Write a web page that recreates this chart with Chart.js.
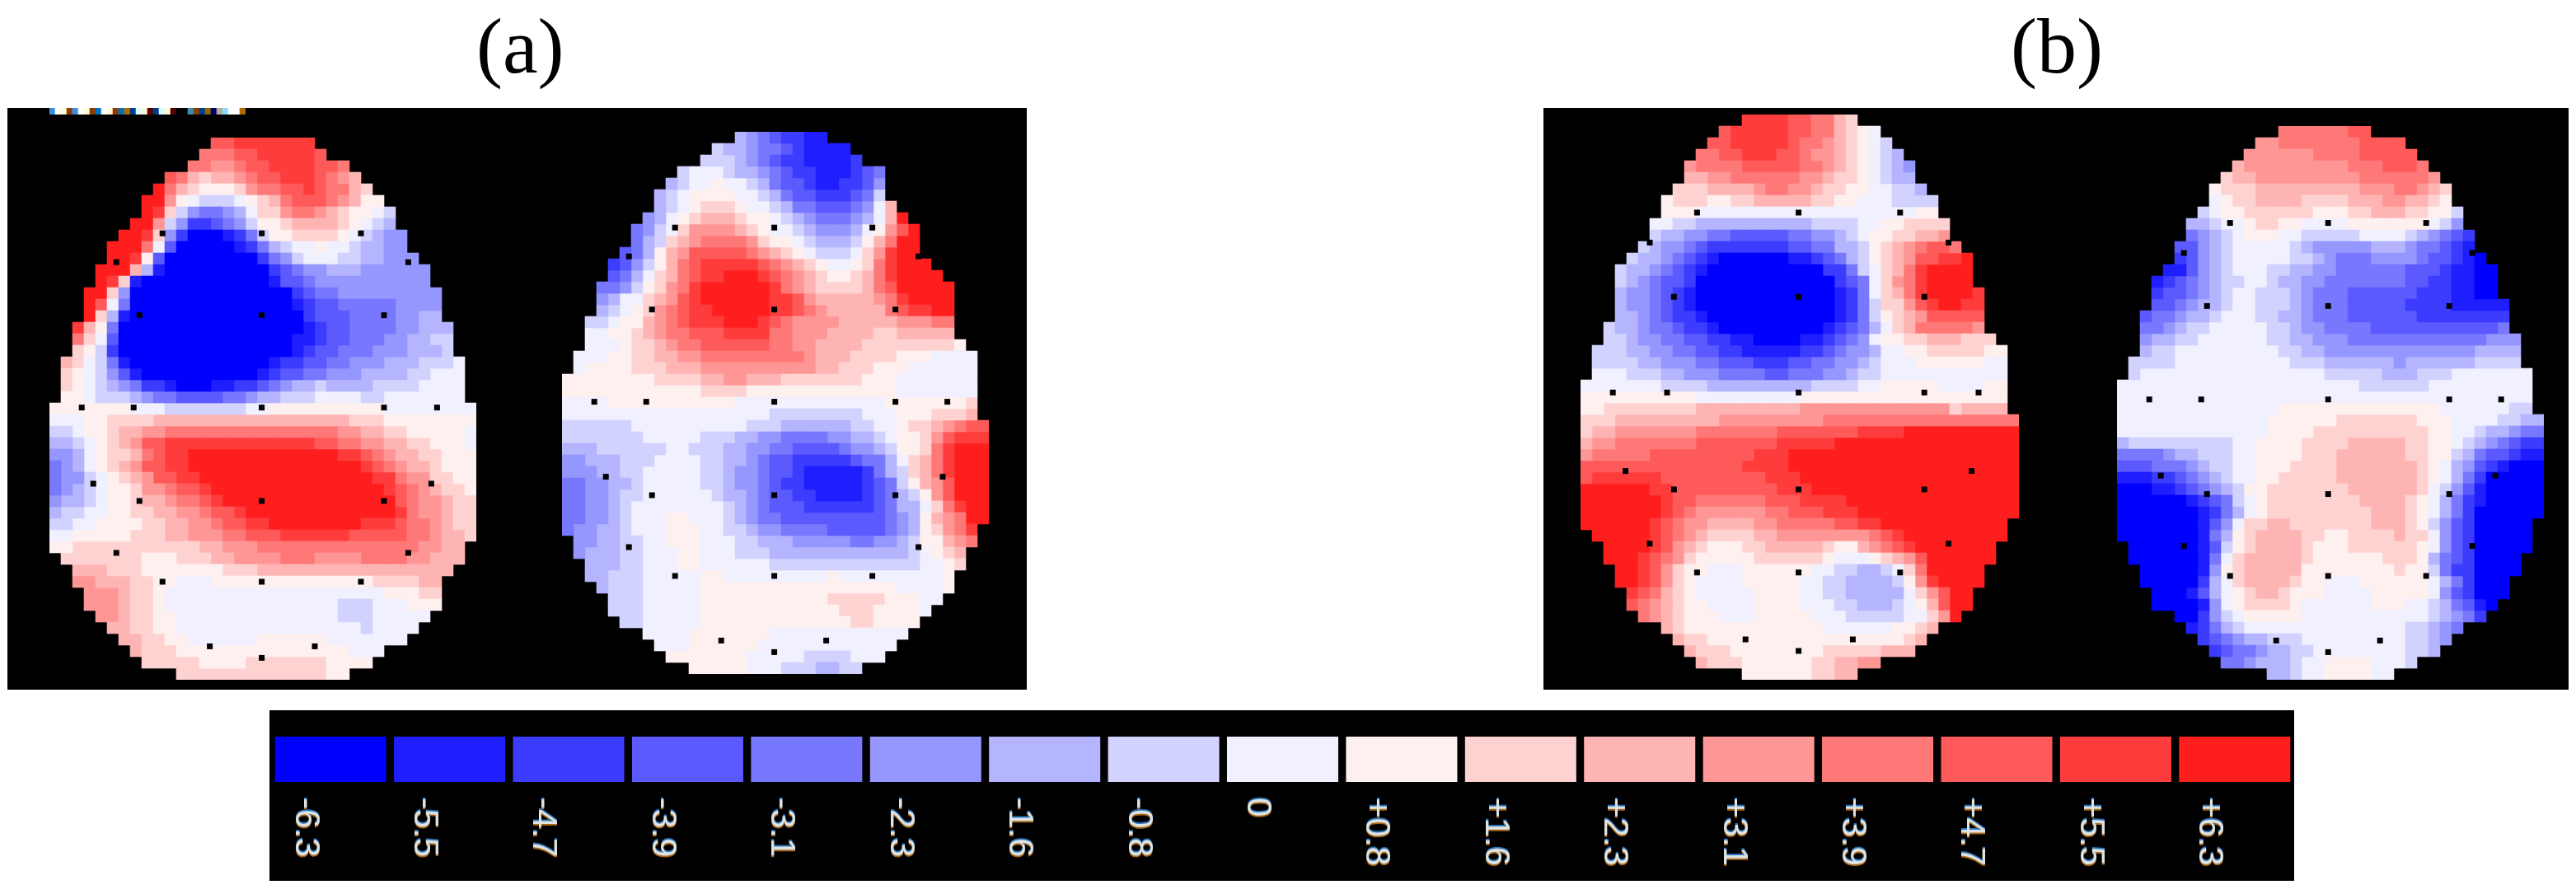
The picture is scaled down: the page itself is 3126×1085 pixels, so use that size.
<!DOCTYPE html>
<html>
<head>
<meta charset="utf-8">
<title>Scalp maps</title>
<script src="https://cdn.jsdelivr.net/npm/chart.js@4"></script>
<style>
  html, body { margin: 0; padding: 0; background: #fff; }
  #page { position: relative; width: 3126px; height: 1085px; overflow: hidden; background: #fff; }
  .panel { position: absolute; background: #000; }
  #panel-a { left: 9px; top: 131px; width: 1237px; height: 706px; }
  #panel-b { left: 1873px; top: 131px; width: 1244px; height: 706px; }
  #panel-bar { left: 327px; top: 862px; width: 2457px; height: 207px; }
  canvas { position: absolute; }
  #head-a { left: 60px; top: 167px; }
  #head-b { left: 682px; top: 160px; }
  #head-c { left: 1918px; top: 139px; }
  #head-d { left: 2569px; top: 153px; }
  #strip { left: 60px; top: 131px; }
  #colorbar { left: 329px; top: 862px; }
  .caption { position: absolute; top: -4px; font: 96px "Liberation Serif", serif; color: #000; line-height: 120px; }
  #cap-a { left: 578px; }
  #cap-b { left: 2440px; }
</style>
</head>
<body>
<div id="page">
  <div class="caption" id="cap-a">(a)</div>
  <div class="caption" id="cap-b">(b)</div>
  <div class="panel" id="panel-a"></div>
  <div class="panel" id="panel-b"></div>
  <div class="panel" id="panel-bar"></div>
  <canvas id="strip" width="238" height="8"></canvas>
  <canvas id="head-a"></canvas>
  <canvas id="head-b"></canvas>
  <canvas id="head-c"></canvas>
  <canvas id="head-d"></canvas>
  <canvas id="colorbar" width="2455" height="207"></canvas>
</div>
<script>
"use strict";

// ── Colour scale: one letter per level, a = -6.3 ... q = +6.3 ────────────────
const levelLetters = "abcdefghijklmnopq";
const levelLabels = ["-6.3", "-5.5", "-4.7", "-3.9", "-3.1", "-2.3", "-1.6", "-0.8", "0",
                     "+0.8", "+1.6", "+2.3", "+3.1", "+3.9", "+4.7", "+5.5", "+6.3"];
const levelColors = ["#0000ff", "#1e1eff", "#3c3cff", "#5a5aff", "#7878ff", "#9696ff", "#b4b4ff", "#d2d2ff", "#f0f0ff",
                     "#fff0f0", "#ffd2d2", "#ffb4b4", "#ff9696", "#ff7878", "#ff5a5a", "#ff3c3c", "#ff1e1e"];
const barHeights = [1, 1, 1, 1, 1, 1, 1, 1, 1, 1, 1, 1, 1, 1, 1, 1, 1];

// ── Map grids, read row by row. "3q" = three cells at +6.3, "." = off the head ──
const headA = [
  "14.2o7p", "13.3n2o5po", "12.2n2mn2o4p2on", "10.onlk2lmn2o3ponml", "9.qnlk3jkm2n2opo2nlk",
  "8.2qmji3hijkln3onml2j", "8.qpkhf2efgi2km2nmlk2jih", "7.2qmhf2cdefh2jk4lkjihg", "6.2qpkfc3abceh2j4kjihg2f",
  "5.3qnid5abcegh2ij2ih2g2f", "5.2qpjd8acefh3i2h2g3f", "4.3qlgb9acde2f3g6f", "4.qpkb11ab2de10f",
  "3.2qkf14acd2e9f", "3.qoie14abc2d5e4f", "3.qkgb15ac3d4e2f2g", "2.plje16abc2d4e2f3g",
  "2.nkid15a2bc2d3e2f2g2h", "2.kjhc15abc2d3e3f3gh", "1.lkiheb12ab2c2d2e3f3g3hi", "1.kjihfdb10abc2d2e3f4g2h3i",
  "1.kjihgfe2cb3a2b2cdef2gh4g4h4i", "1.2ji3hgf2e4d2ef2g3h4i2h7i", "7j3i7h2i10j8i", "3i2j4k17l3k8j",
  "2hi2jk2l2m15n2m2l2k5ji", "2ghijklm2o13p2o2n2m2l2k3ji", "2fgij2klno2p13q2ponm2l2k3j", "efgijklm2o2p15qponm2lk3j",
  "e2fhijklm2o2p15q2pn2m2k2j", "efghi2jk2mn2op15qponml2kj", "f2ghi2jk2lm2nop15qon2ml2k", "g2h2i2j2k2l2mn2op13qpn2ml2k",
  "2h2i4j2k2l2mn2o2p8q3po2nml2k", "2i5j3k2l3m2n3o6p5o2nm2lk", "2j11k2l3m14n2m2l", "1.7k3j3k2l4m3n4m4n2m3l",
  "2.3l3k7j3k17l", "2.2m3l2k2j3i14j4k2l", "3.3ml2kj19i3j2k", "3.3ml2kj15i3h3i3j",
  "4.2ml2k2j14i3h5i", "5.2l2k2j16ih4i", "6.2l2k2j6i6j7i", "7.l3k15j3i", "8.5k4j7k4j", "11.13k2j"
];

const headB = [
  "15.gfed2c2b", "13.h2gf2edc4b", "12.3hgfed2c4bc", "10.h3ih2gfed2c3bcde", "9.gh2ij2ihge2dc2b2cdf",
  "8.ghi4j2ihge2d3cdeh", "8.ghij3kj2ihg2e3defil", "7.fgijk3lk2jihgf3efgilq", "6.efhik4mlkj2ihg3fgijmoq",
  "6.eghklm4nmk2jih3ghjln2q", "5.degjlm5onmlkji3hikmp2q", "4.cdfhjlno5ponmlkj2ijknp3q", "4.degiklno2p3qponmlk2jklnp4q",
  "3.2efhjkmnp6qpnml4klno5q", "3.fg2iklmop6q2pom5lmnp4q", "3.ghijkmno2p5q2ponm5lno2p2q", "2.2hi2jlmno3p3qpon4m5l3m2n",
  "2.2i2jklm2n3o4p2n3m4l2k5l", "2.3ij2klm2n6o2n2m4l8kj", "1.3i2j2k2l2m9nm3l4k3j4i", "1.i4j3k3l10m2l3k3j6i",
  "8j4k2l2m3l7k3j7i", "12j4k13j7i", "4i11j13i7jk", "18i8h3i3j3kl",
  "6h10i3h6g2h2ij2klmn2o", "7h5i3h2g2f4e2f2ghi2jkmo3p", "3g6h2i3h2g2f2e4de2fgh2jknp3q", "2f3g3h4i2h2gfe2d5cd2egiklnp3q",
  "3f2g2h5i2hg2fe2dc5bceghklnp3q", "2e2f2gh5i2hg2fed2c5bcdehjlmo3q", "2e2fg2h6ih2gfe2d2c4bcdeghjmo3q", "2e2fgh8ihgfe3d6cde2giknp2q",
  "2e2fgh3i2j3ihgf2e9defgjlmn2q", "e2f2gh3i3j2i2hg2f4e5defgjkmnp", "1.2f2g2h2i3j3i2h3g5f2e2fgh2jlmn", "1.f3g2h3i2j3i3h12ghijkl",
  "2.3g2h3i2j6i13h2ijk", "2.2g3h5i2j9ij9ij", "3.g3h5i17j4ij", "4.3h5i11j5k3j2i",
  "4.3h5i12j3k4ji", "5.2h5i13j2k4j", "7.4i7j12i", "8.3i6j12i", "9.7j5i4h3i", "11.5j3i3h2g2h"
];

const headC = [
  "14.4p2o2nlk", "12.o5p2o2nlkji", "11.2o5po2nmlkjih", "10.2n2o3p2on2mlkjihg", "9.m4n5o2nmlkjihgf",
  "9.2l2m6n2ml2kjih2g", "8.3k4lm2n2ml2k2j2i2hg", "7.j3k2j2k5l2k2j3i4h", "7.3j19i2j", "6.2i2h10g4h2i2j4k",
  "6.h2g2f2e5d2e2fghi2j2k2lm", "5.hg2fed7c2d2e2ghjklmn2on", "4.h2gfedcb6a2bcdeghjklm2o2pq", "3.h2gfedcb10a2cehiklnp4q", "3.hgfe2dc12acdeikmnp4q",
  "3.g2fedcb12abceiklnp4qp", "3.g2fedcb12abceh2kmop2q2p", "3.2gfed2cb11abcehjklm5o", "2.h2gf2ed2cb9abcdegikl5nm", "2.2hg2f2e2d2c2b4a2bcdefi2j2k3l3k",
  "1.3h2g2f2e2d2c5b2cde2fg2i2j5k2j", "1.4h2g3f2e3d3c2d2e2fgh3i6j2i", "1.3i3h2g3f4e2d3e2fg2h11i", "7i4h9g4h2i5j4i2j", "10j9i18j",
  "2j8k9l13mk4l", "3k9l9m17n", "k2l7m7n7o4p10q", "l2m7n7o5p16q", "m5n9o3p20q",
  "14o4p20q", "o6p9o3p19q", "6q2p9o3p18q", "7qp2o6n3o4p15q", "7qpon6m2n3o3p14q",
  "6qpon2m4l2m5n2o2p11q", "1.5qponml4k2l8mnop9q", "2.4qpomlk3j2k5lk2jlmnop7q", "2.3qponmk5j6kj3ijklmo6q", "3.2qpomk2j3i6j2i2h2ghikn5q",
  "3.2qpomkj4i5j2i2h4ghjmp4q", "4.ponlkj5i4j2i2h5gikmo2q", "4.onmlk2j4i4j3i2h3ghijlo2q", "5.nmlk3j3i5j3i5h2ikmq", "7.lk12j6i2jkl",
  "8.l2k17jkl", "9.l3k8j5k3l", "10.l3k6j2k2l2m", "14.6j2k2l"
];

const headD = [
  "14.6n2o", "12.2m7n4o", "11.6m4n5o", "10.l9m3n3on", "9.k2l9m6nm",
  "8.j3k9l3m2nmlk", "8.ij2k4l4k3l2m2lkj", "7.hi2j6k3j2k3l2k2jh", "6.2gh2ij2k2j4i7jihf", "6.efghi3j2i5h4ihgfedc",
  "5.2dfgh5ihg5f3gf2edcb", "5.cdfgh5i2hgf3e4fe2dcba", "4.2bdfgh3i2h2g2f6e3dc2b2a", "3.bcdefg2h2ih2g2f7e2d2c2b2a", "3.c2defgh2i3hgf3e6d3c2b2a",
  "3.2def2gh2i3hgf3e5d4c5b", "2.d2ef2gh3i2h2gf3e6d8c", "2.2efg2h5i2hg2f4e11de", "2.f2g2h6i2h2g3f12e3f", "2.g2h9i2h2g13f4g",
  "1.4h10i3h6gf6g4h", "1.h16i5h3g3h7i", "21i6h9i", "36i", "14i14j6i2h",
  "13i6j7k3j4i2h2g", "13i4j10k2j2ih2gf2e", "g9h2i4j4k5l2k2jihgfed2c", "4ef2g3h2i4j3k6l2k2jhge2dc2b", "3d3efg2h2i3j4k7lkjigfdcb3a",
  "3b2cdefgh2i2j5k7lkjigec5a", "3a2bcdefgh2j7k6lkihfdb5a", "6abcdehij8k4lkjigecb5a", "7abcegij9k3lkjigec6a", "7abdfi2k2l7k3lkjhfdc5a",
  "7abegjk4l2k2j4kl2kifdc5a", "1.6abdhjk4lk3j6kjifdc5a", "1.6abeik5lk6j3kjgedc4a", "2.5abfjk5l8jk2jhe2c4a", "2.5acgik4lk2j3i6jigec3a",
  "3.3abdgijk2lk3j4i5jifdc3a", "3.4abfij4kj6i3j2ihgedba", "5.2acfhi5j11ihgfec", "6.bcegh14i2hgfe", "7.cdef2g3h9i2hgf",
  "8.cd2ef2g2h8i2hg", "9.2ef3gh2i4j3ih", "13.2gh2i4j2i"
];

// ── Electrode dots, in grid units [column, row] ──────────────────────────────
const dotsA = [[9.3,7.8],[17.9,7.8],[26.5,7.8],[5.3,10.3],[30.6,10.3],[7.3,14.9],[17.9,14.9],[28.5,14.9],
  [2.3,22.9],[6.8,22.9],[17.9,22.9],[28.5,22.9],[33.1,22.9],[3.3,29.5],[32.6,29.5],[7.3,31],[17.9,31],[28.5,31],
  [5.3,35.5],[30.6,35.5],[9.3,38],[17.9,38],[26.5,38],[13.4,43.6],[22.5,43.6],[17.9,44.6]];
const dotsB = [[9.3,7.8],[17.9,7.8],[26.4,7.8],[5.3,10.3],[30.4,10.3],[7.3,14.9],[17.9,14.9],[28.4,14.9],
  [2.3,22.9],[6.8,22.9],[17.9,22.9],[28.4,22.9],[32.9,22.9],[3.3,29.4],[32.5,29.4],[7.3,31],[17.9,31],[28.4,31],
  [5.3,35.5],[30.4,35.5],[9.3,38],[17.9,38],[26.4,38],[13.3,43.6],[22.4,43.6],[17.9,44.6]];
const dotsC = [[9.6,8],[18.4,8],[27.2,8],[5.5,10.6],[31.4,10.6],[7.6,15.3],[18.4,15.3],[29.3,15.3],
  [2.3,23.6],[7,23.6],[18.4,23.6],[29.3,23.6],[34,23.6],[3.4,30.4],[33.4,30.4],[7.6,32],[18.4,32],[29.3,32],
  [5.5,36.7],[31.4,36.7],[9.6,39.2],[18.4,39.2],[27.2,39.2],[13.8,45],[23.1,45],[18.4,46]];
const dotsD = [[9.3,7.9],[17.8,7.9],[26.3,7.9],[5.3,10.5],[30.3,10.5],[7.3,15.1],[17.8,15.1],[28.3,15.1],
  [2.3,23.2],[6.8,23.2],[17.8,23.2],[28.3,23.2],[32.8,23.2],[3.3,29.8],[32.3,29.8],[7.3,31.4],[17.8,31.4],[28.3,31.4],
  [5.3,35.9],[30.3,35.9],[9.3,38.5],[17.8,38.5],[26.3,38.5],[13.3,44.1],[22.3,44.1],[17.8,45.1]];

// ── Garbled title strip along the top edge of panel (a) ──────────────────────
const stripColors = ["#3c8fdf","#ffffff","#fffbd8","#8c3c00","#3c8fdf","#ffffff","#fffbd8","#8c3c00","#0070c0","#ffffff",
  "#fffbd8","#8c3c00","#0070c0","#b06a00","#003c8c","#d8ffff","#fffbd8","#5a0000","#003c8c","#d8ffff",
  "#fffbd8","#5a0000","#000000","#000000","#3c8fb0","#8c3c00","#003c8c","#8c6a00","#000070","#b0b08c",
  "#8cd8ff","#ffffff","#ffffff","#b06a00"];

// ── Layout constants ─────────────────────────────────────────────────────────
const CELL = 14;
const DOT_SIDE = 7;

Chart.defaults.animation = false;
Chart.defaults.devicePixelRatio = 1;
Chart.defaults.responsive = false;
Chart.defaults.events = [];
Chart.defaults.plugins.legend.display = false;
Chart.defaults.plugins.tooltip.enabled = false;

// Expand "12.3qk" into one letter per cell
function expandRow(row) {
  let out = "";
  for (const m of row.matchAll(/(\d*)([a-q.])/g)) {
    out += m[2].repeat(m[1] ? parseInt(m[1]) : 1);
  }
  return out;
}

function rectRadius(side) {
  return side / Math.SQRT2;
}

// One scatter dataset per colour level, plus the electrode dots on top
function buildHead(id, rows, dots) {
  const grid = rows.map(expandRow);
  const cols = Math.max(...grid.map(r => r.length));
  const points = levelLetters.split("").map(() => []);

  grid.forEach((row, y) => {
    row.split("").forEach((ch, x) => {
      const level = levelLetters.indexOf(ch);
      if (level >= 0) points[level].push({ x, y });
    });
  });

  const datasets = points.map((data, i) => ({
    data,
    pointStyle: "rect",
    pointRadius: rectRadius(CELL + 0.6),
    pointBorderWidth: 0,
    backgroundColor: levelColors[i],
    clip: false,
  }));
  datasets.push({
    data: dots.map(([x, y]) => ({ x, y })),
    pointStyle: "rect",
    pointRadius: rectRadius(DOT_SIDE),
    pointBorderWidth: 0,
    backgroundColor: "#000",
    clip: false,
    order: -1,
  });

  const canvas = document.getElementById(id);
  canvas.width = cols * CELL;
  canvas.height = grid.length * CELL;

  return new Chart(canvas, {
    type: "scatter",
    data: { datasets },
    options: {
      layout: { padding: 0, autoPadding: false },
      scales: {
        x: { type: "linear", display: false, min: -0.5, max: cols - 0.5 },
        y: { type: "linear", display: false, reverse: true, min: -0.5, max: grid.length - 0.5 },
      },
    },
  });
}

buildHead("head-a", headA, dotsA);
buildHead("head-b", headB, dotsB);
buildHead("head-c", headC, dotsC);
buildHead("head-d", headD, dotsD);

// ── Strip ────────────────────────────────────────────────────────────────────
new Chart(document.getElementById("strip"), {
  type: "bar",
  data: {
    labels: stripColors.map((_, i) => i),
    datasets: [{
      data: stripColors.map(() => 1),
      backgroundColor: stripColors,
      categoryPercentage: 1,
      barPercentage: 1,
    }],
  },
  options: {
    layout: { padding: 0, autoPadding: false },
    scales: {
      x: { display: false },
      y: { display: false, min: 0, max: 1 },
    },
  },
});

// ── Colour bar: labels run downward from a fixed top, so they are drawn here.
// The blue and orange copies mimic the colour fringes of the original text.
const downwardLabels = {
  id: "downwardLabels",
  afterDatasetsDraw(chart) {
    const { ctx, scales: { x } } = chart;
    const fringes = [["#a8651a", 2], ["#2a74ba", -2], ["#dfe3e0", 0]];
    ctx.save();
    ctx.font = '42px "Liberation Sans", sans-serif';
    ctx.textAlign = "left";
    ctx.textBaseline = "middle";
    levelLabels.forEach((label, i) => {
      fringes.forEach(([color, dy]) => {
        ctx.save();
        ctx.fillStyle = color;
        ctx.translate(x.getPixelForTick(i) - 31, chart.chartArea.bottom + 19 + dy);
        ctx.rotate(Math.PI / 2);
        ctx.fillText(label, 0, 0);
        ctx.restore();
      });
    });
    ctx.restore();
  },
};

new Chart(document.getElementById("colorbar"), {
  type: "bar",
  data: {
    labels: levelLabels,
    datasets: [{
      data: barHeights,
      backgroundColor: levelColors,
      categoryPercentage: 1,
      barPercentage: 0.935,
    }],
  },
  options: {
    layout: { padding: { top: 32, bottom: 120 }, autoPadding: false },
    scales: {
      x: { display: false },
      y: { display: false, min: 0, max: 1 },
    },
  },
  plugins: [downwardLabels],
});
</script>
</body>
</html>
